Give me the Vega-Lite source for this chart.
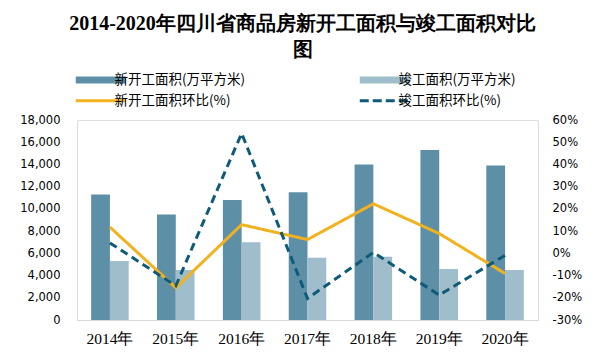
{
  "$schema": "https://vega.github.io/schema/vega-lite/v6.json",
  "width": 461,
  "height": 200,
  "autosize": {"type": "none"},
  "padding": {"left": 77, "top": 120, "right": 68, "bottom": 44},
  "background": "white",
  "title": {
    "text": ["2014-2020年四川省商品房新开工面积与竣工面积对比", "图"],
    "font": "Liberation Serif",
    "fontSize": 20,
    "fontWeight": "bold",
    "color": "#000000",
    "anchor": "middle",
    "frame": "group",
    "dx": -5,
    "offset": 13,
    "lineHeight": 26
  },
  "datasets": {
    "bars": [
      {"year": "2014年", "series": "新开工面积(万平方米)", "value": 11300},
      {"year": "2014年", "series": "竣工面积(万平方米)", "value": 5300},
      {"year": "2015年", "series": "新开工面积(万平方米)", "value": 9500},
      {"year": "2015年", "series": "竣工面积(万平方米)", "value": 4500},
      {"year": "2016年", "series": "新开工面积(万平方米)", "value": 10800},
      {"year": "2016年", "series": "竣工面积(万平方米)", "value": 7000},
      {"year": "2017年", "series": "新开工面积(万平方米)", "value": 11500},
      {"year": "2017年", "series": "竣工面积(万平方米)", "value": 5600},
      {"year": "2018年", "series": "新开工面积(万平方米)", "value": 14000},
      {"year": "2018年", "series": "竣工面积(万平方米)", "value": 5700},
      {"year": "2019年", "series": "新开工面积(万平方米)", "value": 15300},
      {"year": "2019年", "series": "竣工面积(万平方米)", "value": 4600},
      {"year": "2020年", "series": "新开工面积(万平方米)", "value": 13900},
      {"year": "2020年", "series": "竣工面积(万平方米)", "value": 4500}
    ],
    "lines": [
      {"year": "2014年", "series": "新开工面积环比(%)", "pct": 11.8},
      {"year": "2015年", "series": "新开工面积环比(%)", "pct": -15.5},
      {"year": "2016年", "series": "新开工面积环比(%)", "pct": 12.9},
      {"year": "2017年", "series": "新开工面积环比(%)", "pct": 6.2},
      {"year": "2018年", "series": "新开工面积环比(%)", "pct": 22.3},
      {"year": "2019年", "series": "新开工面积环比(%)", "pct": 8.9},
      {"year": "2020年", "series": "新开工面积环比(%)", "pct": -9.1},
      {"year": "2014年", "series": "竣工面积环比(%)", "pct": 4.7},
      {"year": "2015年", "series": "竣工面积环比(%)", "pct": -14.6},
      {"year": "2016年", "series": "竣工面积环比(%)", "pct": 54.0},
      {"year": "2017年", "series": "竣工面积环比(%)", "pct": -20.3},
      {"year": "2018年", "series": "竣工面积环比(%)", "pct": 0.4},
      {"year": "2019年", "series": "竣工面积环比(%)", "pct": -18.8},
      {"year": "2020年", "series": "竣工面积环比(%)", "pct": -0.9}
    ]
  },
  "layer": [
    {
      "data": {"name": "bars"},
      "mark": {"type": "bar"},
      "encoding": {
        "x": {
          "field": "year",
          "type": "nominal",
          "sort": null,
          "scale": {"paddingInner": 0.43, "paddingOuter": 0.215},
          "axis": {
            "title": null,
            "labelAngle": 0,
            "domain": true,
            "domainColor": "#D9D9D9",
            "domainWidth": 1,
            "ticks": false,
            "grid": false,
            "labelPadding": 11,
            "labelFont": "Liberation Serif",
            "labelFontSize": 15.5,
            "labelColor": "#000000"
          }
        },
        "xOffset": {
          "field": "series",
          "type": "nominal",
          "scale": {"domain": ["新开工面积(万平方米)", "竣工面积(万平方米)"]}
        },
        "y": {
          "field": "value",
          "type": "quantitative",
          "scale": {"domain": [0, 18000], "nice": false},
          "axis": {
            "title": null,
            "values": [0, 2000, 4000, 6000, 8000, 10000, 12000, 14000, 16000, 18000],
            "format": ",.0f",
            "domain": false,
            "ticks": false,
            "grid": false,
            "labelPadding": 17,
            "labelFont": "DejaVu Sans",
            "labelFontSize": 11.5,
            "labelColor": "#000000"
          }
        },
        "color": {
          "field": "series",
          "type": "nominal",
          "scale": {
            "domain": ["新开工面积(万平方米)", "竣工面积(万平方米)", "新开工面积环比(%)", "竣工面积环比(%)"],
            "range": ["#5D8FA7", "#A0BDCB", "#F2B11E", "#0D5B78"]
          },
          "legend": {
            "title": null,
            "orient": "none",
            "direction": "horizontal",
            "legendX": 17,
            "legendY": -47,
            "columns": 2,
            "columnPadding": 99,
            "rowPadding": -28,
            "symbolType": "stroke",
            "symbolSize": 2500,
            "symbolStrokeWidth": 3,
            "labelFont": "Noto Sans CJK SC",
            "labelFontSize": 13.5,
            "labelColor": "#000000",
            "labelOffset": 7,
            "encode": {
              "symbols": {
                "update": {
                  "stroke": {"scale": "color", "field": "value"},
                  "fill": {"value": "transparent"},
                  "strokeWidth": {"signal": "datum.value == '新开工面积(万平方米)' || datum.value == '竣工面积(万平方米)' ? 7 : 3"},
                  "strokeDash": {"signal": "datum.value == '竣工面积环比(%)' ? [9, 4] : [1, 0]"}
                }
              }
            }
          }
        }
      }
    },
    {
      "data": {"name": "lines"},
      "mark": {"type": "line", "strokeWidth": 3},
      "encoding": {
        "x": {"field": "year", "type": "nominal", "sort": null},
        "y": {
          "field": "pct",
          "type": "quantitative",
          "scale": {"domain": [-30, 60], "nice": false},
          "axis": {
            "orient": "right",
            "title": null,
            "values": [-30, -20, -10, 0, 10, 20, 30, 40, 50, 60],
            "labelExpr": "datum.value + '%'",
            "domain": false,
            "ticks": false,
            "grid": false,
            "labelPadding": 14,
            "labelFont": "DejaVu Sans",
            "labelFontSize": 11.5,
            "labelColor": "#000000"
          }
        },
        "color": {"field": "series", "type": "nominal"},
        "strokeDash": {
          "field": "series",
          "type": "nominal",
          "scale": {"domain": ["新开工面积环比(%)", "竣工面积环比(%)"], "range": [[1, 0], [8, 5]]},
          "legend": null
        }
      }
    }
  ],
  "resolve": {"scale": {"y": "independent"}}
}
